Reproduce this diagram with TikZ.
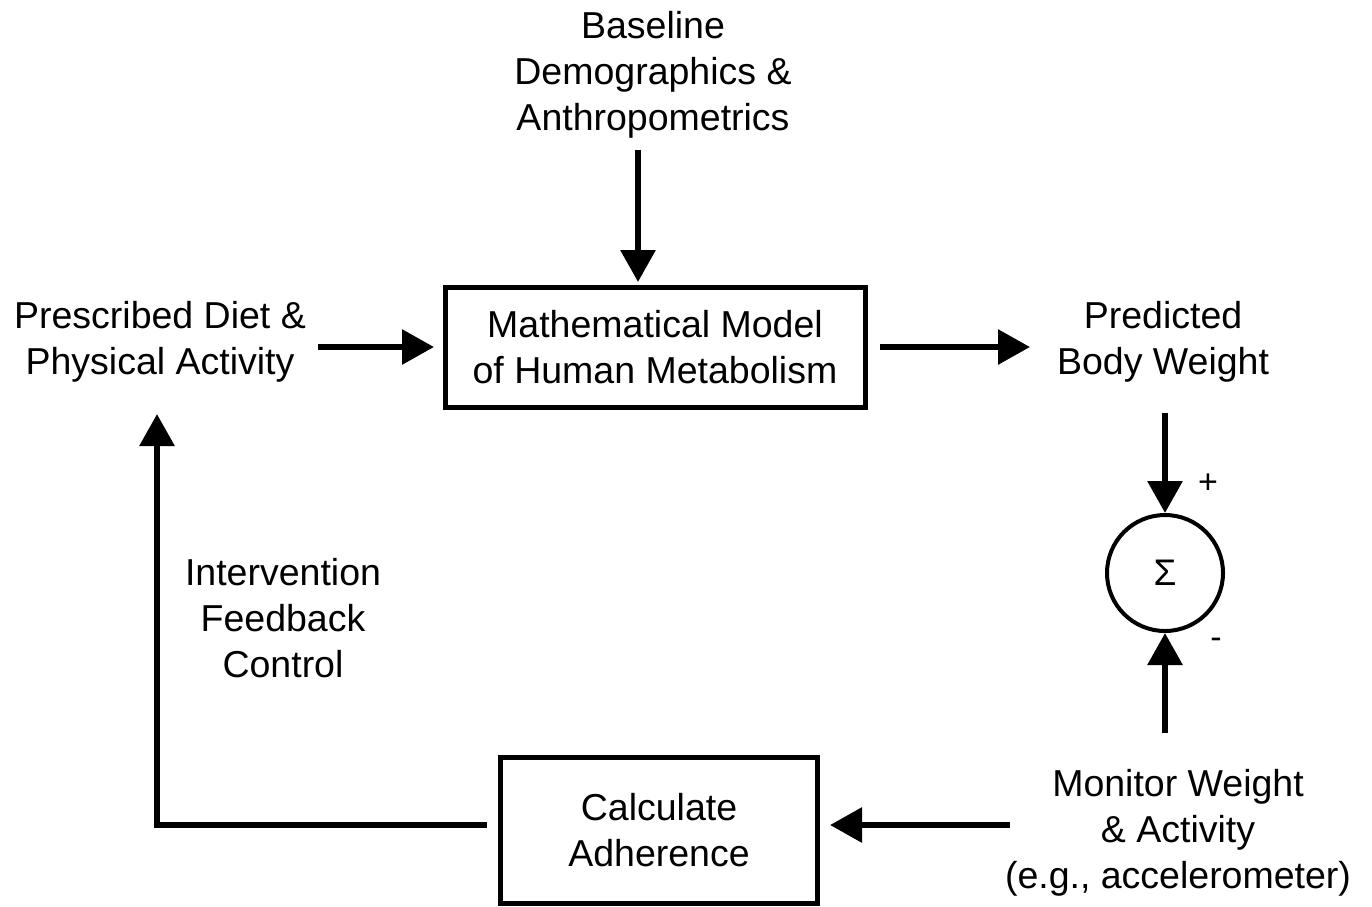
\documentclass[tikz,border=0pt]{standalone}
\usepackage{fontspec}
\setmainfont{Liberation Sans}
\usetikzlibrary{arrows.meta}
\begin{document}
\begin{tikzpicture}[x=1pt,y=-1pt,
  lbl/.style={align=center,font=\fontsize{37.5}{46}\selectfont,inner sep=0pt},
  blk/.style={draw,line width=5pt,minimum width=420pt,minimum height=120pt,align=center,font=\fontsize{37.5}{46}\selectfont},
  arr/.style={line width=6pt,-{Triangle[length=32pt,width=34pt]}},
  ln/.style={line width=6pt}]
\useasboundingbox (0,0) rectangle (1372,906);
\node[lbl] (base) at (653,75) {Baseline\\Demographics \&\\Anthropometrics};
\node[blk] (model) at (655,347) {Mathematical Model\\of Human Metabolism};
\node[lbl] (diet) at (160,342) {Prescribed Diet \&\\Physical Activity};
\node[lbl] (pred) at (1163,342) {Predicted\\Body Weight};
\node[draw,circle,line width=4pt,minimum size=116pt,inner sep=0pt,font=\fontsize{37}{46}\selectfont] (sum) at (1165,573) {Σ};
\node[lbl,font=\fontsize{34}{34}\selectfont] (plus) at (1208,484) {+};
\node[lbl,font=\fontsize{34}{34}\selectfont] (minus) at (1216,643) {-};
\node[lbl] (mon) at (1178,833) {Monitor Weight\\\& Activity\\(e.g., accelerometer)};
\node[blk,minimum width=317pt,minimum height=146pt] (adh) at (659,830) {Calculate\\Adherence};
\node[lbl] (int) at (283,618) {Intervention\\Feedback\\Control};
\coordinate (b1) at (638,150);
\coordinate (b2) at (638,282);
\draw[arr] (b1) -- (b2);
\coordinate (d1) at (318,347);
\coordinate (d2) at (434,347);
\draw[arr] (d1) -- (d2);
\coordinate (p1) at (880,347);
\coordinate (p2) at (1030,347);
\draw[arr] (p1) -- (p2);
\coordinate (s1) at (1165,413);
\draw[arr] (s1) -- (sum.north);
\coordinate (m1) at (1165,733);
\draw[arr] (m1) -- (sum.south);
\coordinate (c1) at (1010,825);
\coordinate (c2) at (830,825);
\draw[arr] (c1) -- (c2);
\coordinate (f1) at (487,825);
\coordinate (f2) at (157,825);
\coordinate (f3) at (157,414);
\draw[ln,-{Triangle[length=32pt,width=34pt]}] (f1) -- (f2) -- (f3);
\end{tikzpicture}
\end{document}
